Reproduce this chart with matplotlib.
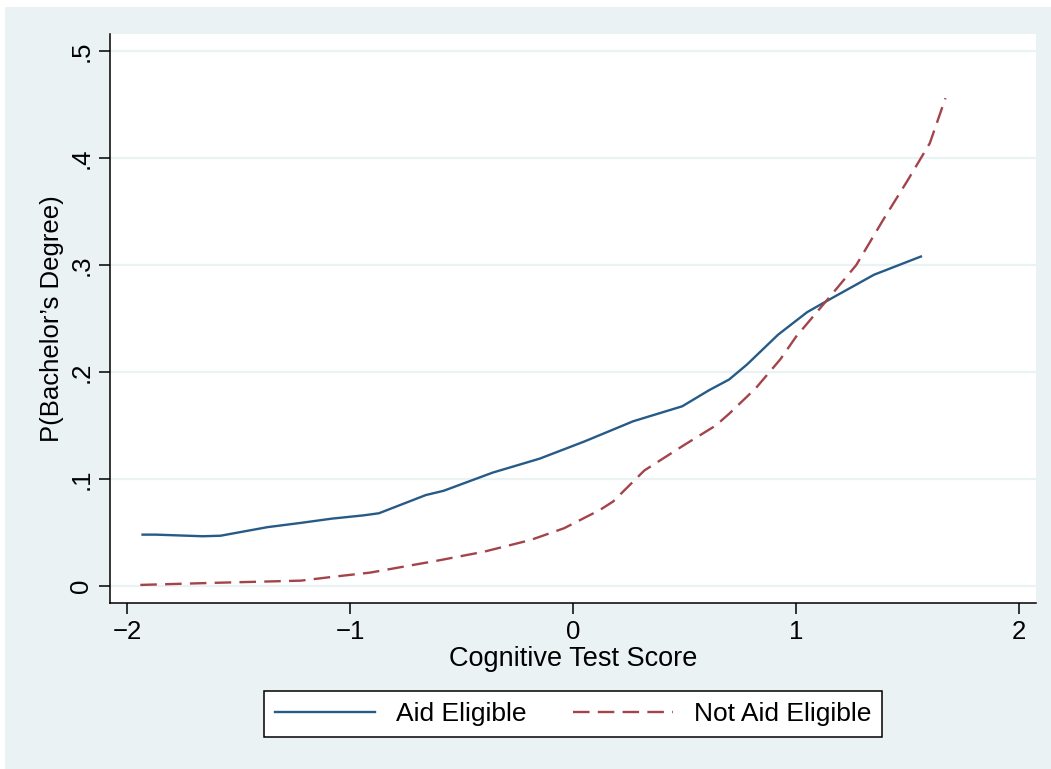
import matplotlib.pyplot as plt
from matplotlib.patches import Rectangle
from matplotlib.lines import Line2D

aid_x = [-1.93, -1.87, -1.66, -1.58, -1.37, -1.22, -1.08, -0.94, -0.87, -0.66, -0.58,
         -0.36, -0.15, 0.05, 0.27, 0.49, 0.61, 0.70, 0.78, 0.85, 0.92, 1.05, 1.16,
         1.35, 1.56]
aid_y = [0.048, 0.048, 0.0465, 0.047, 0.055, 0.059, 0.063, 0.066, 0.068, 0.085, 0.089,
         0.106, 0.119, 0.135, 0.154, 0.168, 0.183, 0.193, 0.207, 0.221, 0.235, 0.256,
         0.269, 0.291, 0.308]

not_x = [-1.94, -1.60, -1.22, -1.08, -0.91, -0.60, -0.40, -0.19, -0.04, 0.12, 0.18,
         0.32, 0.50, 0.64, 0.70, 0.82, 0.93, 1.00, 1.15, 1.27, 1.39, 1.50, 1.60, 1.67]
not_y = [0.001, 0.003, 0.005, 0.0085, 0.0125, 0.024, 0.032, 0.043, 0.054, 0.071, 0.079,
         0.108, 0.132, 0.150, 0.161, 0.185, 0.212, 0.233, 0.270, 0.300, 0.342, 0.379,
         0.414, 0.456]

x_ticks = [-2, -1, 0, 1, 2]
y_ticks = [0, 0.1, 0.2, 0.3, 0.4, 0.5]
y_tick_labels = ["0", ".1", ".2", ".3", ".4", ".5"]

BG = "#eaf2f3"
NAVY = "#265a87"
MAROON = "#a3444a"
W, H = 1051, 769

plt.rcParams['font.family'] = ['Liberation Sans', 'DejaVu Sans']

fig = plt.figure(figsize=(W / 100, H / 100), dpi=100, facecolor="white")
fig.patches.append(Rectangle((5 / W, 0), 1, (H - 7) / H, transform=fig.transFigure,
                             facecolor=BG, edgecolor="none", zorder=-5))

ax = fig.add_axes([110 / W, (H - 603) / H, (1036 - 110) / W, (603 - 34) / H])
ax.set_facecolor("white")
ax.set_xlim(-2.076, 2.076)
ax.set_ylim(-0.0159, 0.516)

for sp in ["top", "right"]:
    ax.spines[sp].set_visible(False)
for sp in ["left", "bottom"]:
    ax.spines[sp].set_linewidth(1.1)
    ax.spines[sp].set_color("black")

ax.set_yticks(y_ticks)
ax.set_yticklabels(y_tick_labels, rotation=90, va="center")
ax.set_xticks(x_ticks)
ax.set_xticklabels(["\u22122", "\u22121", "0", "1", "2"])
ax.tick_params(axis="both", labelsize=18.5, length=8, width=1.1, pad=4)
ax.grid(axis="y", color=BG, linewidth=1.6)
ax.set_axisbelow(True)

ax.plot(aid_x, aid_y, color=NAVY, lw=1.7, label="Aid Eligible")
ax.plot(not_x, not_y, color=MAROON, lw=1.7, dashes=(7, 3.5), label="Not Aid Eligible")

ax.set_xlabel("Cognitive Test Score", fontsize=19.5, labelpad=2)
ax.set_ylabel("P(Bachelor\u2019s Degree)", fontsize=18.5, labelpad=4)

handles = [Line2D([], [], color=NAVY, lw=1.7),
           Line2D([], [], color=MAROON, lw=1.7, dashes=(7, 3.5))]
leg = fig.legend(handles, ["Aid Eligible", "Not Aid Eligible"], loc="center",
                 bbox_to_anchor=(573 / W, (H - 714) / H), ncol=2, fontsize=19,
                 frameon=True, fancybox=False, edgecolor="black", framealpha=1,
                 handlelength=3.8, handletextpad=0.8, columnspacing=1.75,
                 borderpad=0.4)
leg.get_frame().set_linewidth(1.1)

fig.savefig("out.png", dpi=100, facecolor="white")
